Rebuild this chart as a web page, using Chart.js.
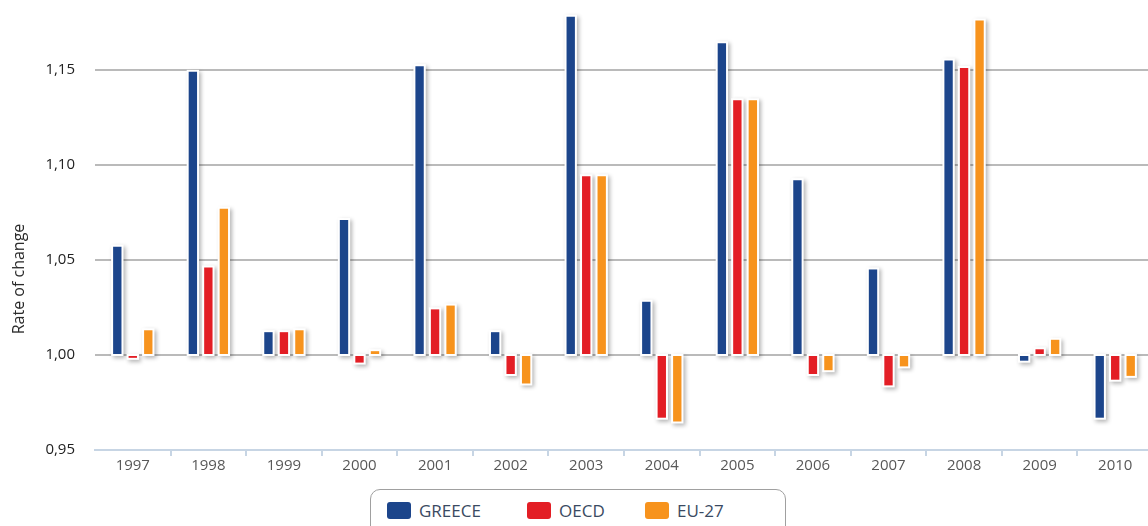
<!DOCTYPE html>
<html>
<head>
<meta charset="utf-8">
<script src="https://cdn.jsdelivr.net/npm/chart.js@4/dist/chart.umd.min.js"></script>
<style>
  body { margin: 0; background: #fff; overflow: hidden; font-family: 'Open Sans', sans-serif; }
  #wrap { position: relative; width: 1148px; height: 526px; overflow: hidden; }
  #c { position: absolute; left: 0; top: 0; }
  #ytitle {
    position: absolute; left: -82px; top: 268px; width: 200px; text-align: center;
    font-size: 16px; line-height: 22px; color: #2b2b2b; transform: rotate(-90deg);
  }
  #legend {
    position: absolute; left: 370px; top: 489px; width: 414px; height: 60px;
    border: 1px solid #a0a0a0; border-radius: 10px; background: #fff;
  }
  .item { position: absolute; top: 12px; display: flex; align-items: center; }
  .sw { width: 24px; height: 17px; border-radius: 3px; }
  .lab { margin-left: 8px; font-size: 17px; color: #3a4a62; line-height: 17px; }
</style>
</head>
<body>
<div id="wrap">
  <canvas id="c" width="1156" height="482"></canvas>
  <div id="ytitle">Rate of change</div>
  <div id="legend"></div>
</div>
<script>
const years = ['1997', '1998', '1999', '2000', '2001', '2002', '2003', '2004', '2005', '2006', '2007', '2008', '2009', '2010'];
const greece = [1.057, 1.149, 1.012, 1.071, 1.152, 1.012, 1.178, 1.028, 1.164, 1.092, 1.045, 1.155, 0.997, 0.967];
const oecd   = [0.9985, 1.046, 1.012, 0.996, 1.024, 0.990, 1.094, 0.967, 1.134, 0.990, 0.984, 1.151, 1.003, 0.987];
const eu27   = [1.013, 1.077, 1.013, 1.002, 1.026, 0.985, 1.094, 0.965, 1.134, 0.992, 0.994, 1.176, 1.008, 0.989];
const seriesNames = ['GREECE', 'OECD', 'EU-27'];
const seriesColors = ['#1c458b', '#e31e25', '#f7931d'];
const yTicks = [0.95, 1.00, 1.05, 1.10, 1.15];

// legend (html, boxed like the original)
const legendLeft = [16, 156, 274];
const legend = document.getElementById('legend');
seriesNames.forEach((name, i) => {
    const item = document.createElement('div');
    item.className = 'item';
    item.style.left = legendLeft[i] + 'px';
    item.innerHTML = `<span class="sw" style="background:${seriesColors[i]}"></span><span class="lab">${name}</span>`;
    legend.appendChild(item);
});

const font = { family: "'Open Sans', sans-serif", size: 15 };

new Chart(document.getElementById('c'), {
    type: 'bar',
    data: {
        labels: years,
        datasets: [greece, oecd, eu27].map((vals, i) => ({
            label: seriesNames[i],
            data: vals,
            base: 1,
            backgroundColor: seriesColors[i],
            borderWidth: 0,
            barPercentage: 0.54,
            categoryPercentage: 0.615,
        })),
    },
    options: {
        responsive: false,
        animation: false,
        layout: { padding: { top: 0, right: 3, left: 0, bottom: 0 } },
        plugins: {
            legend: { display: false },
            tooltip: { enabled: false },
        },
        scales: {
            x: {
                afterFit(scale) { scale.height = 32; },
                grid: {
                    offset: true,
                    drawOnChartArea: false,
                    tickLength: 6,
                    lineWidth: 2,
                    color: ctx => ctx.index === 0 ? 'rgba(0,0,0,0)' : '#c7d5e4',
                },
                border: { display: true, color: '#c7d5e4', width: 2 },
                ticks: { color: '#585858', font, padding: 1, maxRotation: 0 },
            },
            y: {
                min: 0.95,
                max: 1.1868,
                afterFit(scale) {
                    scale.width = 95;
                    // plot runs right up to the top edge, as in the original
                    scale.paddingTop = 0;
                    scale.paddingBottom = 0;
                },
                afterBuildTicks(scale) {
                    scale.ticks = yTicks.map(v => ({ value: v }));
                },
                grid: {
                    drawTicks: false,
                    lineWidth: 2,
                    color: ctx => (ctx.tick && ctx.tick.value < 0.96) ? 'rgba(0,0,0,0)' : '#bababa',
                },
                border: { display: false },
                ticks: {
                    color: '#222',
                    font,
                    padding: 20,
                    callback: v => v.toFixed(2).replace('.', ','),
                },
            },
        },
    },
    plugins: [{
        // white outline + soft drop shadow behind every bar
        id: 'barHalo',
        beforeDatasetsDraw(chart) {
            const ctx = chart.ctx;
            ctx.save();
            ctx.fillStyle = '#ffffff';
            ctx.shadowColor = 'rgba(0,0,0,0.3)';
            ctx.shadowBlur = 4;
            ctx.shadowOffsetX = 2;
            ctx.shadowOffsetY = 2;
            chart.data.datasets.forEach((ds, i) => {
                chart.getDatasetMeta(i).data.forEach(bar => {
                    const { x, y, base, width } = bar.getProps(['x', 'y', 'base', 'width'], true);
                    const top = Math.min(y, base);
                    const h = Math.abs(base - y);
                    ctx.fillRect(x - width / 2 - 2, top - 2, width + 4, h + 4);
                });
            });
            ctx.restore();
        }
    }]
});
</script>
</body>
</html>
